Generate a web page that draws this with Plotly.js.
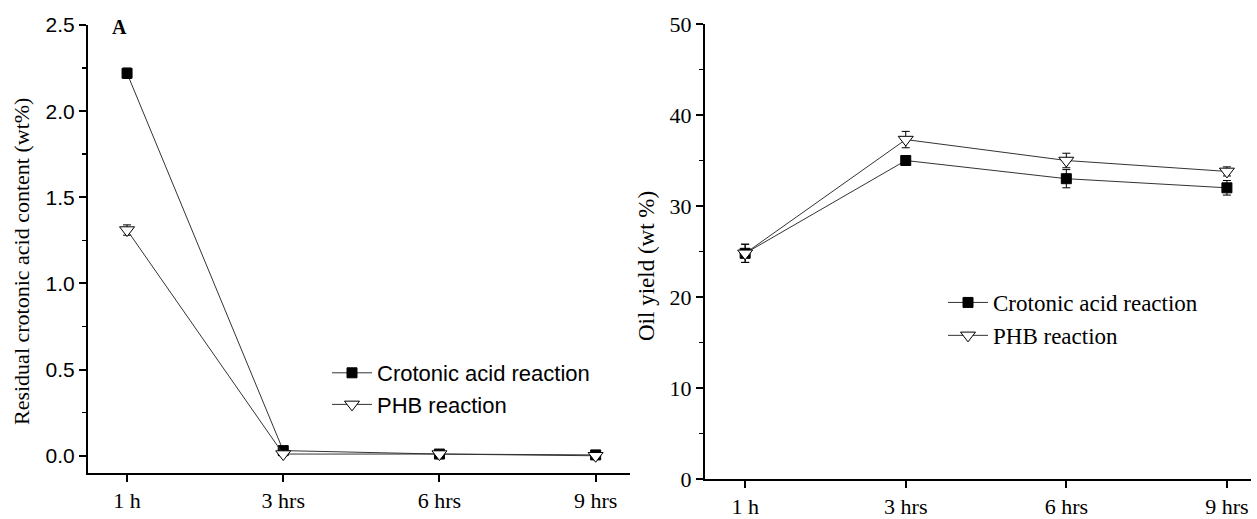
<!DOCTYPE html>
<html>
<head>
<meta charset="utf-8">
<script src="https://cdn.plot.ly/plotly-3.0.1.min.js"></script>
<style>html,body{margin:0;padding:0;background:#fff}#chart{width:1257px;height:519px}</style>
</head>
<body>
<div id="chart"></div>
<script>
const categories = ['1 h', '3 hrs', '6 hrs', '9 hrs'];
const residualCrotonic = [2.22, 0.03, 0.01, 0.005];
const residualCrotonicErr = [0.03, 0.01, 0.005, 0.005];
const residualPHB = [1.31, 0.01, 0.01, 0.0];
const residualPHBErr = [0.03, 0.01, 0.005, 0.005];
const oilCrotonic = [24.8, 35.0, 33.0, 32.0];
const oilCrotonicErr = [1.0, 0.5, 1.0, 0.8];
const oilPHB = [24.8, 37.3, 35.0, 33.8];
const oilPHBErr = [1.0, 0.9, 0.8, 0.5];
const seriesNames = ['Crotonic acid reaction', 'PHB reaction'];

const W = 1257, H = 519;
const px = v => v / W, py = v => 1 - v / H;
const serif = 'Liberation Serif, Times New Roman, serif';
const sans = 'Liberation Sans, Arial, sans-serif';
const lineStyle = {color: '#333', width: 1};
const sqMarker = {symbol: 'square', size: 10, color: '#000', line: {color: '#000', width: 1}};
const triMarker = {symbol: 'triangle-down', size: 13, color: '#fff', line: {color: '#000', width: 1}};
const err = arr => ({type: 'data', array: arr, visible: true, color: '#000', thickness: 1, width: 4});

const traces = [
  {x: categories, y: residualCrotonic, error_y: err(residualCrotonicErr), name: seriesNames[0], mode: 'lines+markers', line: lineStyle, marker: sqMarker, xaxis: 'x', yaxis: 'y', legend: 'legend'},
  {x: categories, y: residualPHB, error_y: err(residualPHBErr), name: seriesNames[1], mode: 'lines+markers', line: lineStyle, marker: triMarker, xaxis: 'x', yaxis: 'y', legend: 'legend'},
  {x: categories, y: oilCrotonic, error_y: err(oilCrotonicErr), name: seriesNames[0], mode: 'lines+markers', line: lineStyle, marker: sqMarker, xaxis: 'x2', yaxis: 'y2', legend: 'legend2'},
  {x: categories, y: oilPHB, error_y: err(oilPHBErr), name: seriesNames[1], mode: 'lines+markers', line: lineStyle, marker: triMarker, xaxis: 'x2', yaxis: 'y2', legend: 'legend2'}
];

const axisBase = {showline: true, linecolor: '#000', linewidth: 2, ticks: 'outside', ticklen: 7, tickwidth: 2, tickcolor: '#000', showgrid: false, zeroline: false, mirror: false};

const layout = {
  width: W, height: H,
  margin: {l: 0, r: 0, t: 0, b: 0},
  paper_bgcolor: '#fff', plot_bgcolor: '#fff',
  xaxis: Object.assign({}, axisBase, {domain: [px(88), px(630)], anchor: 'y', type: 'category', categoryarray: categories, range: [-0.25, 3.22], tickfont: {family: serif, size: 22, color: '#000'}}),
  yaxis: Object.assign({}, axisBase, {domain: [py(473), py(25)], anchor: 'x', range: [-0.1, 2.5], tick0: 0, dtick: 0.5, tickformat: '.1f', tickfont: {family: sans, size: 21, color: '#000'}, minor: {ticks: 'outside', ticklen: 4, tickwidth: 1.5, tickcolor: '#000', dtick: 0.25, tick0: 0}}),
  xaxis2: Object.assign({}, axisBase, {domain: [px(705), px(1251)], anchor: 'y2', type: 'category', categoryarray: categories, range: [-0.25, 3.15], tickfont: {family: serif, size: 22, color: '#000'}}),
  yaxis2: Object.assign({}, axisBase, {domain: [py(479), py(24)], anchor: 'x2', range: [0, 50], tick0: 0, dtick: 10, tickfont: {family: serif, size: 22, color: '#000'}, minor: {ticks: 'outside', ticklen: 4, tickwidth: 1.5, tickcolor: '#000', dtick: 5, tick0: 0}}),
  legend: {x: px(327), y: py(352), xanchor: 'left', yanchor: 'top', bgcolor: 'rgba(0,0,0,0)', font: {family: sans, size: 22, color: '#000'}, tracegroupgap: 0, itemwidth: 40},
  legend2: {x: px(943), y: py(281), xanchor: 'left', yanchor: 'top', bgcolor: 'rgba(0,0,0,0)', font: {family: serif, size: 23, color: '#000'}, tracegroupgap: 0, itemwidth: 40},
  showlegend: true,
  annotations: [
    {text: 'Residual crotonic acid content (wt%)', xref: 'paper', yref: 'paper', x: px(21), y: py(262), textangle: -90, showarrow: false, font: {family: serif, size: 22, color: '#000'}, xanchor: 'center', yanchor: 'middle'},
    {text: 'Oil yield (wt %)', xref: 'paper', yref: 'paper', x: px(646), y: py(266), textangle: -90, showarrow: false, font: {family: serif, size: 23, color: '#000'}, xanchor: 'center', yanchor: 'middle'},
    {text: '<b>A</b>', xref: 'paper', yref: 'paper', x: px(119), y: py(27), showarrow: false, font: {family: serif, size: 20, color: '#000'}, xanchor: 'center', yanchor: 'middle'}
  ]
};

Plotly.newPlot('chart', traces, layout, {displayModeBar: false, staticPlot: true});
</script>
</body>
</html>
